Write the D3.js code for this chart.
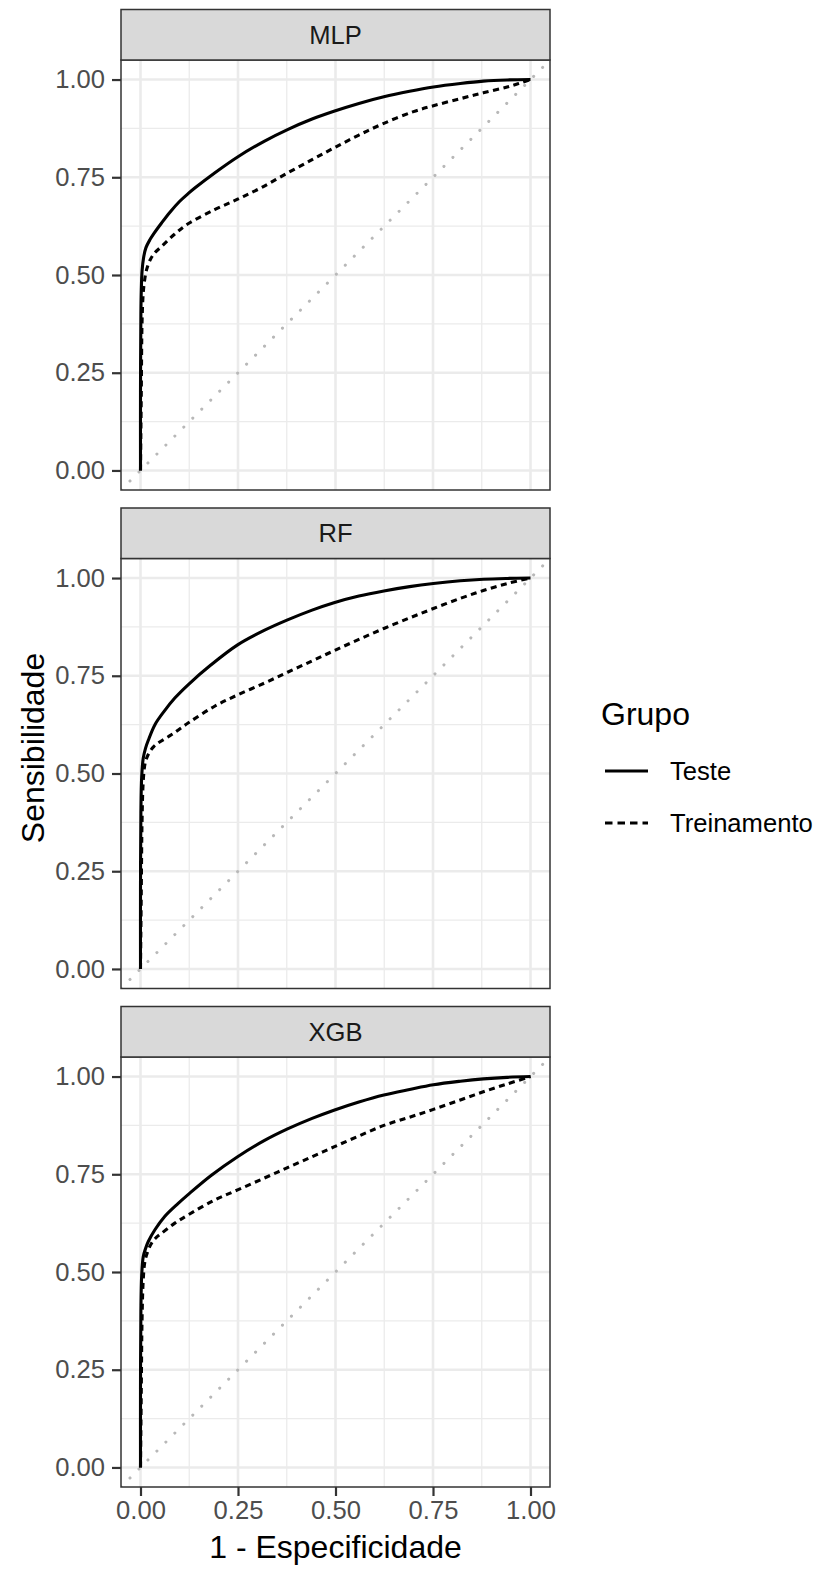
<!DOCTYPE html>
<html>
<head>
<meta charset="utf-8">
<script src="https://cdn.jsdelivr.net/npm/d3@7"></script>
<style>
  body { margin: 0; background: #fff; }
  svg { display: block; font-family: "Liberation Sans", Arial, sans-serif; }
</style>
</head>
<body>
<svg id="chart" width="821" height="1569"></svg>
<script>
// --- data ---
const models = ["MLP", "RF", "XGB"];
const groups = ["Teste", "Treinamento"];
const xTicks = [0, 0.25, 0.5, 0.75, 1];
const yTicks = [0, 0.25, 0.5, 0.75, 1];

const mlpTesteFpr = [0, 0.0, 0.001, 0.002, 0.004, 0.008, 0.014, 0.024, 0.035, 0.054, 0.075, 0.1, 0.122, 0.14, 0.19, 0.249, 0.317, 0.377, 0.44, 0.496, 0.56, 0.624, 0.69, 0.751, 0.82, 0.879, 0.94, 1];
const mlpTesteTpr = [0, 0.2, 0.4, 0.46, 0.51, 0.545, 0.57, 0.59, 0.607, 0.633, 0.66, 0.688, 0.708, 0.723, 0.761, 0.802, 0.842, 0.872, 0.899, 0.919, 0.939, 0.956, 0.970, 0.981, 0.990, 0.996, 0.999, 1];
const mlpTreinoFpr = [0, 0.002, 0.004, 0.007, 0.011, 0.016, 0.024, 0.035, 0.054, 0.088, 0.122, 0.19, 0.249, 0.309, 0.377, 0.44, 0.496, 0.56, 0.624, 0.7, 0.751, 0.82, 0.879, 0.94, 0.973, 1];
const mlpTreinoTpr = [0, 0.2, 0.38, 0.454, 0.49, 0.515, 0.537, 0.555, 0.573, 0.605, 0.631, 0.667, 0.694, 0.723, 0.761, 0.795, 0.825, 0.858, 0.888, 0.918, 0.933, 0.951, 0.966, 0.981, 0.991, 1];

const rfTesteFpr = [0, 0.0, 0.001, 0.003, 0.007, 0.013, 0.02, 0.037, 0.062, 0.088, 0.122, 0.181, 0.249, 0.317, 0.377, 0.44, 0.496, 0.56, 0.624, 0.69, 0.751, 0.82, 0.879, 0.94, 1];
const rfTesteTpr = [0, 0.2, 0.4, 0.49, 0.539, 0.565, 0.585, 0.625, 0.661, 0.693, 0.727, 0.778, 0.829, 0.866, 0.893, 0.918, 0.937, 0.954, 0.967, 0.978, 0.986, 0.993, 0.997, 0.999, 1];
const rfTreinoFpr = [0, 0.002, 0.004, 0.007, 0.011, 0.016, 0.024, 0.035, 0.045, 0.079, 0.122, 0.19, 0.249, 0.317, 0.377, 0.44, 0.496, 0.56, 0.624, 0.69, 0.751, 0.82, 0.879, 0.94, 1];
const rfTreinoTpr = [0, 0.2, 0.38, 0.48, 0.522, 0.54, 0.556, 0.57, 0.578, 0.599, 0.629, 0.672, 0.701, 0.731, 0.759, 0.788, 0.814, 0.843, 0.871, 0.898, 0.922, 0.948, 0.968, 0.986, 1];

const xgbTesteFpr = [0, 0.0, 0.001, 0.003, 0.007, 0.013, 0.02, 0.037, 0.062, 0.096, 0.122, 0.181, 0.249, 0.317, 0.377, 0.44, 0.496, 0.56, 0.624, 0.69, 0.751, 0.82, 0.879, 0.94, 1];
const xgbTesteTpr = [0, 0.2, 0.4, 0.49, 0.539, 0.56, 0.578, 0.608, 0.642, 0.675, 0.698, 0.747, 0.795, 0.836, 0.866, 0.893, 0.914, 0.935, 0.953, 0.967, 0.979, 0.988, 0.994, 0.998, 1];
const xgbTreinoFpr = [0, 0.002, 0.004, 0.007, 0.011, 0.017, 0.028, 0.04, 0.054, 0.088, 0.122, 0.19, 0.249, 0.317, 0.377, 0.44, 0.496, 0.56, 0.624, 0.69, 0.751, 0.82, 0.879, 0.94, 1];
const xgbTreinoTpr = [0, 0.2, 0.38, 0.48, 0.525, 0.548, 0.573, 0.588, 0.599, 0.625, 0.646, 0.684, 0.710, 0.740, 0.767, 0.795, 0.820, 0.848, 0.875, 0.896, 0.916, 0.940, 0.961, 0.981, 1];

const curves = {
  MLP: { Teste: [mlpTesteFpr, mlpTesteTpr], Treinamento: [mlpTreinoFpr, mlpTreinoTpr] },
  RF: { Teste: [rfTesteFpr, rfTesteTpr], Treinamento: [rfTreinoFpr, rfTreinoTpr] },
  XGB: { Teste: [xgbTesteFpr, xgbTesteTpr], Treinamento: [xgbTreinoFpr, xgbTreinoTpr] }
};

// --- layout ---
const svg = d3.select("#chart");
const panelLeft = 121, panelRight = 550;
const panelH = 430, stripH = 50.5;
const panelTops = [60, 558.5, 1057];
const dashes = { Teste: null, Treinamento: "6,4.5" };

const x = d3.scaleLinear().domain([-0.05, 1.05]).range([panelLeft, panelRight]);
const fmt = d3.format(".2f");

models.forEach((m, i) => {
  const top = panelTops[i];
  const y = d3.scaleLinear().domain([-0.05, 1.05]).range([top + panelH, top]);
  const g = svg.append("g");

  const clipId = "clip" + i;
  g.append("clipPath").attr("id", clipId)
    .append("rect").attr("x", panelLeft).attr("y", top)
    .attr("width", panelRight - panelLeft).attr("height", panelH);

  // minor grid
  const minor = [0.125, 0.375, 0.625, 0.875];
  g.selectAll(".minx").data(minor).join("line")
    .attr("x1", d => x(d)).attr("x2", d => x(d))
    .attr("y1", top).attr("y2", top + panelH)
    .attr("stroke", "#ebebeb").attr("stroke-width", 1.3);
  g.selectAll(".miny").data(minor).join("line")
    .attr("y1", d => y(d)).attr("y2", d => y(d))
    .attr("x1", panelLeft).attr("x2", panelRight)
    .attr("stroke", "#ebebeb").attr("stroke-width", 1.3);

  // major grid
  g.append("g").selectAll("line").data(xTicks).join("line")
    .attr("x1", d => x(d)).attr("x2", d => x(d))
    .attr("y1", top).attr("y2", top + panelH)
    .attr("stroke", "#ebebeb").attr("stroke-width", 2.6);
  g.append("g").selectAll("line").data(yTicks).join("line")
    .attr("y1", d => y(d)).attr("y2", d => y(d))
    .attr("x1", panelLeft).attr("x2", panelRight)
    .attr("stroke", "#ebebeb").attr("stroke-width", 2.6);

  // diagonal reference
  g.append("line")
    .attr("clip-path", `url(#${clipId})`)
    .attr("x1", x(-0.05)).attr("y1", y(-0.05))
    .attr("x2", x(1.05)).attr("y2", y(1.05))
    .attr("stroke", "#b8b8b8").attr("stroke-width", 3)
    .attr("stroke-linecap", "round")
    .attr("stroke-dasharray", "0.1,12.6");

  // ROC curves
  const line = d3.line().x(d => x(d[0])).y(d => y(d[1])).curve(d3.curveCatmullRom.alpha(0.5));
  groups.forEach(gr => {
    const [fpr, tpr] = curves[m][gr];
    const pts = fpr.map((f, k) => [f, tpr[k]]);
    g.append("path")
      .attr("clip-path", `url(#${clipId})`)
      .attr("d", line(pts))
      .attr("fill", "none")
      .attr("stroke", "#000")
      .attr("stroke-width", 3.1)
      .attr("stroke-dasharray", dashes[gr]);
  });

  // panel border
  g.append("rect")
    .attr("x", panelLeft).attr("y", top)
    .attr("width", panelRight - panelLeft).attr("height", panelH)
    .attr("fill", "none").attr("stroke", "#333").attr("stroke-width", 1.5);

  // strip
  g.append("rect")
    .attr("x", panelLeft).attr("y", top - stripH)
    .attr("width", panelRight - panelLeft).attr("height", stripH)
    .attr("fill", "#d9d9d9").attr("stroke", "#333").attr("stroke-width", 1.5);
  g.append("text")
    .attr("x", (panelLeft + panelRight) / 2).attr("y", top - stripH / 2)
    .attr("text-anchor", "middle").attr("dominant-baseline", "central")
    .attr("font-size", 25.6).attr("fill", "#1a1a1a")
    .text(m);

  // y axis
  const yAxis = g.append("g")
    .attr("transform", `translate(${panelLeft},0)`)
    .call(d3.axisLeft(y).tickValues(yTicks).tickFormat(fmt).tickSize(9).tickPadding(7));
  yAxis.select(".domain").remove();
  yAxis.selectAll(".tick line").attr("stroke", "#333").attr("stroke-width", 2.2);
  yAxis.selectAll(".tick text")
    .attr("font-size", 25.6).attr("fill", "#4d4d4d")
    .attr("font-family", "Liberation Sans, Arial, sans-serif");

  // x axis only on the bottom panel
  if (i === models.length - 1) {
    const xAxis = g.append("g")
      .attr("transform", `translate(0,${top + panelH})`)
      .call(d3.axisBottom(x).tickValues(xTicks).tickFormat(fmt).tickSize(9).tickPadding(5));
    xAxis.select(".domain").remove();
    xAxis.selectAll(".tick line").attr("stroke", "#333").attr("stroke-width", 2.2);
    xAxis.selectAll(".tick text")
      .attr("font-size", 25.6).attr("fill", "#4d4d4d")
      .attr("font-family", "Liberation Sans, Arial, sans-serif");
  }
});

// axis titles
svg.append("text")
  .attr("x", (x(-0.05) + x(1.05)) / 2).attr("y", 1558)
  .attr("text-anchor", "middle").attr("font-size", 32).attr("fill", "#000")
  .text("1 - Especificidade");

svg.append("text")
  .attr("transform", "translate(44,748) rotate(-90)")
  .attr("text-anchor", "middle").attr("font-size", 32).attr("fill", "#000")
  .text("Sensibilidade");

// legend
const legend = svg.append("g").attr("transform", "translate(601,0)");
legend.append("text")
  .attr("x", 0).attr("y", 725)
  .attr("font-size", 32).attr("fill", "#000")
  .text("Grupo");
groups.forEach((gr, k) => {
  const cy = 771 + k * 52;
  legend.append("line")
    .attr("x1", 4).attr("x2", 47).attr("y1", cy).attr("y2", cy)
    .attr("stroke", "#000").attr("stroke-width", 3)
    .attr("stroke-dasharray", dashes[gr] ? "7.5,5" : null);
  legend.append("text")
    .attr("x", 69).attr("y", cy)
    .attr("dominant-baseline", "central")
    .attr("font-size", 25.6).attr("fill", "#000")
    .text(gr);
});
</script>
</body>
</html>
